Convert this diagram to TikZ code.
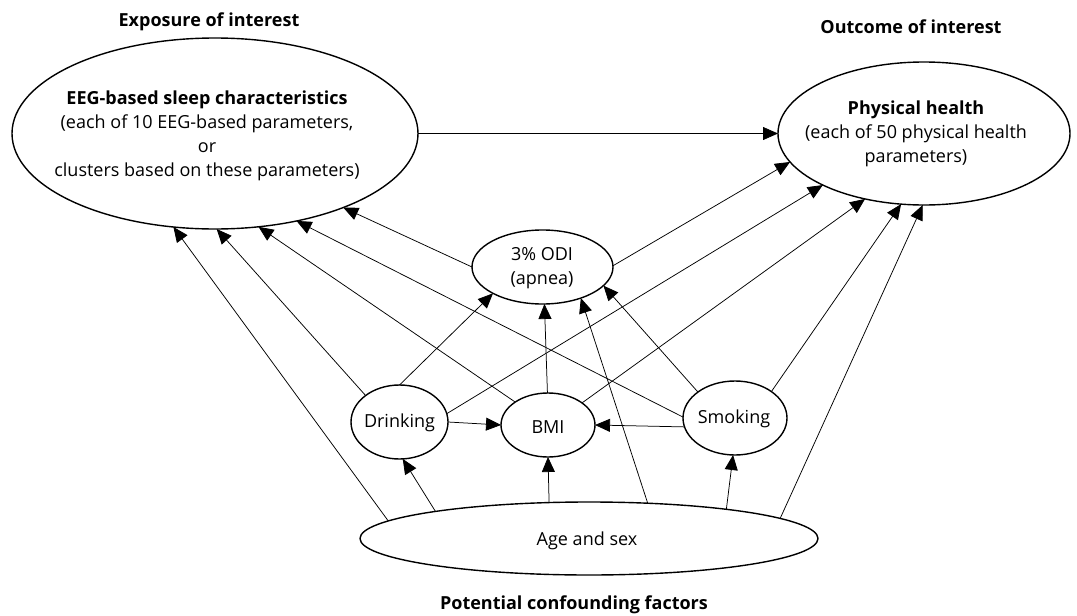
\documentclass[tikz,border=0pt]{standalone}
\usepackage{fontspec}
\setmainfont{Open Sans}
\usetikzlibrary{arrows.meta,shapes.geometric}
\begin{document}
\begin{tikzpicture}[x=1pt,y=-1pt,
  ell/.style={ellipse, draw, line width=1.4pt, inner sep=0pt, outer sep=0pt},
  txt/.style={inner sep=0pt, font=\fontsize{18}{24}\selectfont, align=center},
  hdr/.style={inner sep=0pt, font=\fontsize{18}{24}\selectfont\bfseries},
  arr/.style={line width=0.75pt, -{Triangle[length=15pt,width=13pt]}}]
\useasboundingbox (0,0) rectangle (1077,616);

% ellipses
\node[ell, minimum width=406pt, minimum height=191pt] (eeg) at (215,133.5) {};
\node[ell, minimum width=292pt, minimum height=143pt] (ph)  at (924,133.5) {};
\node[ell, minimum width=141pt, minimum height=74pt]  (odi) at (542.5,267) {};
\node[ell, minimum width=97pt,  minimum height=74pt]  (drk) at (399.5,422) {};
\node[ell, minimum width=94pt,  minimum height=64pt]  (bmi) at (548,425) {};
\node[ell, minimum width=104pt, minimum height=74pt]  (smk) at (735,418) {};
\node[ell, minimum width=458pt, minimum height=73pt]  (age) at (589,538.5) {};

% texts
\node[txt] (eegT) at (207,136) {\textbf{EEG-based sleep characteristics}\\(each of 10 EEG-based parameters,\\or\\clusters based on these parameters)};
\node[txt] (phT) at (916,134) {\textbf{Physical health}\\(each of 50 physical health\\parameters)};
\node[txt] (odiT) at (542,268.5) {3\% ODI\\(apnea)};
\node[txt] (drkT) at (399.5,423) {Drinking};
\node[txt] (bmiT) at (548,427) {BMI};
\node[txt] (smkT) at (734,419) {Smoking};
\node[txt] (ageT) at (587,541) {Age and sex};

\node[hdr] (h1) at (209,22) {Exposure of interest};
\node[hdr] (h2) at (911,27) {Outcome of interest};
\node[hdr] (h3) at (574,605) {Potential confounding factors};

% connectors
\draw[arr] (eeg.east) -- (ph.west);
\draw[arr] (odi.west) -- (eeg.330.2);
\draw[arr] (odi.1) -- (ph.192.8);
\draw[arr] (drk.142) -- (eeg.271.2);
\draw[arr] (drk.90) -- (odi.208.1);
\draw[arr] (drk.10.5) -- (ph.207.6);
\draw[arr] (drk.east) -- (bmi.west);
\draw[arr] (bmi.145.1) -- (eeg.295);
\draw[arr] (bmi.91) -- (odi.273.7);
\draw[arr] (bmi.33.3) -- (ph.228.7);
\draw[arr] (smk.179) -- (eeg.313);
\draw[arr] (smk.145.6) -- (odi.343.2);
\draw[arr] (smk.36.1) -- (ph.252.8);
\draw[arr] (smk.190) -- (bmi.east);
\draw[arr] (age.175.8) -- (eeg.246.9);
\draw[arr] (age.170) -- (drk.275.3);
\draw[arr] (age.138.8) -- (bmi.south);
\draw[arr] (age.31) -- (odi.321.8);
\draw[arr] (age.12) -- (smk.267);
\draw[arr] (age.6.5) -- (ph.269.2);
\end{tikzpicture}
\end{document}
